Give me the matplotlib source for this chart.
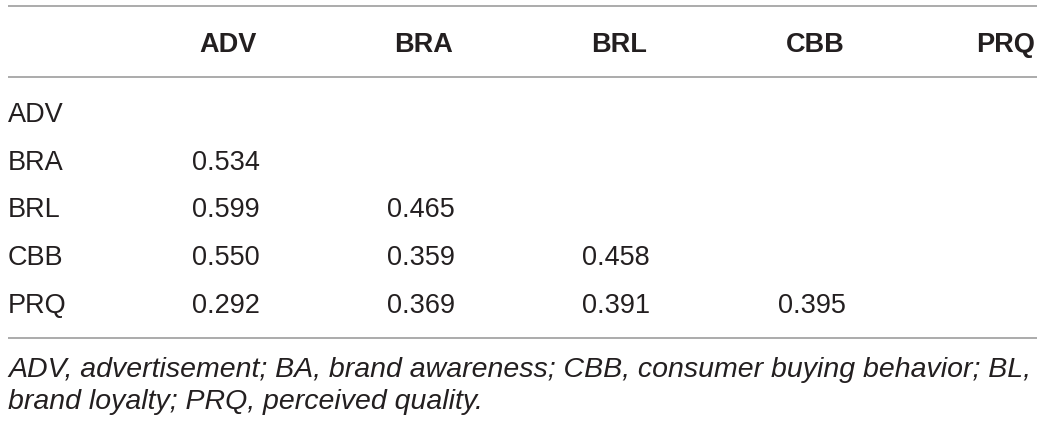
import matplotlib
matplotlib.use('Agg')
import matplotlib.pyplot as plt

# correlation table (lower triangle)
colunas = ['ADV', 'BRA', 'BRL', 'CBB', 'PRQ']
linhas = ['ADV', 'BRA', 'BRL', 'CBB', 'PRQ']
valores = [
    [None, None, None, None, None],
    [0.534, None, None, None, None],
    [0.599, 0.465, None, None, None],
    [0.550, 0.359, 0.458, None, None],
    [0.292, 0.369, 0.391, 0.395, None],
]
nota = ['ADV, advertisement; BA, brand awareness; CBB, consumer buying behavior; BL,',
        'brand loyalty; PRQ, perceived quality.']

plt.rcParams['font.family'] = ['Liberation Sans', 'DejaVu Sans']
cor_texto = '#231f20'
cor_linha = '#9d9d9d'

fig = plt.figure(figsize=(10.42, 4.23), dpi=100)
ax = fig.add_axes([0, 0, 1, 1])
ax.set_xlim(0, 1042)
ax.set_ylim(423, 0)
ax.axis('off')

tam = 19.5
x_rotulo = 8
x_dados = [192, 387, 582, 778]
x_cab_dir = [257, 453, 647, 845, 1035]
y_cab = 52
y_linhas = [122, 170, 217, 265, 313]

# rules
for y in [6, 77, 338]:
    ax.plot([8, 1037], [y, y], color=cor_linha, lw=1.2, solid_capstyle='butt')

for i, c in enumerate(colunas):
    ax.text(x_cab_dir[i], y_cab, c, ha='right', va='baseline', fontsize=tam,
            fontweight='bold', color=cor_texto)

for i, r in enumerate(linhas):
    ax.text(x_rotulo, y_linhas[i], r, ha='left', va='baseline', fontsize=tam,
            color=cor_texto)
    for j, v in enumerate(valores[i]):
        if v is not None:
            ax.text(x_dados[j], y_linhas[i], '%.3f' % v, ha='left', va='baseline',
                    fontsize=tam, color=cor_texto)

# footnote, scaled so the first line spans the table width
t1 = ax.text(8, 377, nota[0], ha='left', va='baseline', fontsize=tam,
             style='italic', color=cor_texto)
fig.canvas.draw()
w = t1.get_window_extent().width
tam_nota = tam * 1024 / w
t1.set_fontsize(tam_nota)
ax.text(8, 409, nota[1], ha='left', va='baseline', fontsize=tam_nota,
        style='italic', color=cor_texto)

fig.savefig('out.png', dpi=100)
